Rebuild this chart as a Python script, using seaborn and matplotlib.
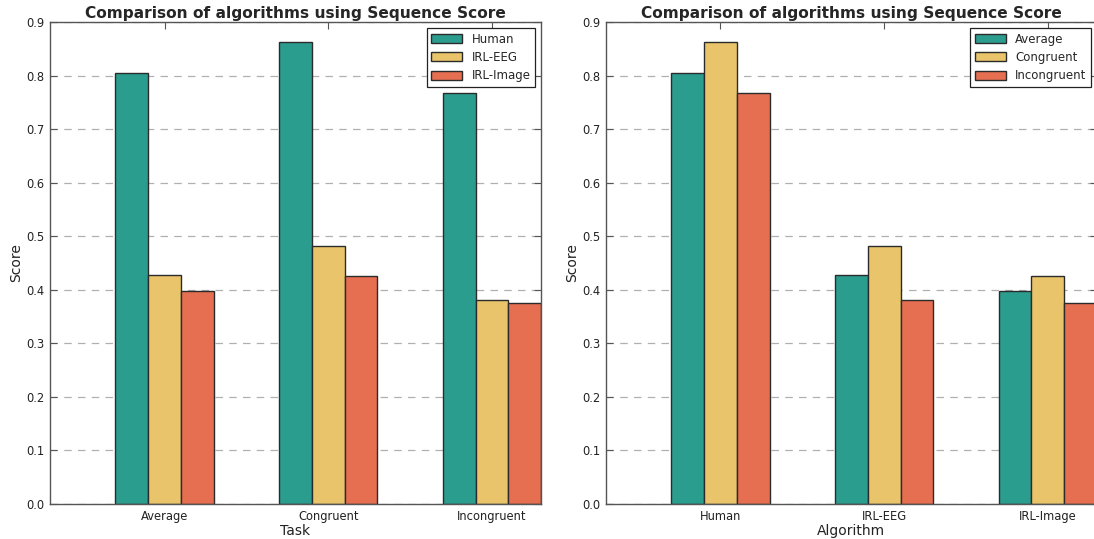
import matplotlib
matplotlib.use("Agg")
import matplotlib.pyplot as plt
import seaborn as sns
import pandas as pd

tasks = ["Average", "Congruent", "Incongruent"]
algorithms = ["Human", "IRL-EEG", "IRL-Image"]
human_scores = [0.805, 0.863, 0.767]
irl_eeg_scores = [0.427, 0.481, 0.381]
irl_image_scores = [0.397, 0.426, 0.375]
palette = ["#2a9d8f", "#e9c46a", "#e76f51"]

rows = []
for alg, vals in zip(algorithms, [human_scores, irl_eeg_scores, irl_image_scores]):
    for task, v in zip(tasks, vals):
        rows.append({"Algorithm": alg, "Task": task, "Score": v})
df = pd.DataFrame(rows)

sns.set_style("white")
plt.rcParams["font.family"] = ["DejaVu Sans"]

fig, axes = plt.subplots(1, 2, figsize=(10.94, 5.39), dpi=100)
fig.subplots_adjust(left=0.0457, right=1.0027, top=0.9592, bottom=0.0649, wspace=0.132)

configs = [
    (axes[0], "Task", "Algorithm", tasks, algorithms),
    (axes[1], "Algorithm", "Task", algorithms, tasks),
]
for ax, xcol, huecol, order, hue_order in configs:
    sns.barplot(data=df, x=xcol, y="Score", hue=huecol, order=order,
                hue_order=hue_order, palette=palette, width=0.6,
                edgecolor="#2b2b2b", linewidth=1.0, ax=ax, saturation=1)
    ax.set_xlim(-0.7, 2.3)
    ax.set_ylim(0, 0.9)
    ax.set_yticks([i / 10 for i in range(10)])
    ax.set_yticklabels([f"{i / 10:.1f}" for i in range(10)])
    ax.yaxis.grid(True, linestyle=(0, (6, 5)), color="#b0b0b0", linewidth=0.9)
    ax.set_axisbelow(True)
    ax.tick_params(direction="in", length=5, width=0.8,
                   labelsize=8.3, top=True, right=True, left=True, bottom=True,
                   pad=4)
    ax.tick_params(axis="both", colors="#555555", labelcolor="#222222")
    for sp in ax.spines.values():
        sp.set_color("#555555")
        sp.set_linewidth(1.0)
        sp.set_visible(True)
    ax.set_xlabel(xcol, fontsize=10, color="#222222", labelpad=1)
    ax.set_ylabel("Score", fontsize=10, color="#222222", labelpad=2)
    ax.set_title("Comparison of algorithms using Sequence Score",
                 fontsize=11.1, fontweight="bold", pad=3)
    leg = ax.legend(loc="upper right", fontsize=8.5, fancybox=False,
                    framealpha=1, edgecolor="#222222", borderpad=0.4,
                    handlelength=2.6, handleheight=0.8, handletextpad=0.8,
                    labelspacing=0.45, title=None)
    leg.get_frame().set_linewidth(0.9)

fig.savefig("out.png", dpi=100)
